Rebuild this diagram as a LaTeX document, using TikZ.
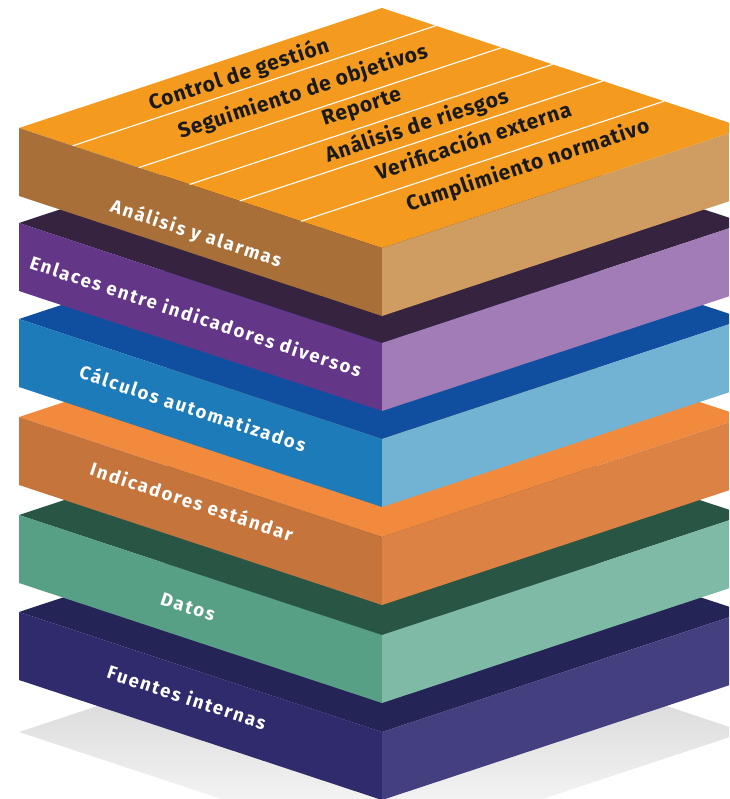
\documentclass[tikz,border=0pt]{standalone}
\usepackage{fontspec}
\setmainfont{Fira Sans}
\newfontfamily\sidefont[LetterSpace=10]{Fira Sans}
\newfontfamily\topfont[LetterSpace=4]{Fira Sans}
\definecolor{oTop}{HTML}{F39A1F}
\definecolor{oLeft}{HTML}{A86F38}
\definecolor{oRight}{HTML}{CF9C62}
\definecolor{pTop}{HTML}{35233F}
\definecolor{pLeft}{HTML}{633687}
\definecolor{pRight}{HTML}{A17CB6}
\definecolor{bTop}{HTML}{104FA0}
\definecolor{bLeft}{HTML}{1E7BBA}
\definecolor{bRight}{HTML}{72B2D3}
\definecolor{rTop}{HTML}{F28A3D}
\definecolor{rLeft}{HTML}{C5743B}
\definecolor{rRight}{HTML}{DB8244}
\definecolor{gTop}{HTML}{295545}
\definecolor{gLeft}{HTML}{57A086}
\definecolor{gRight}{HTML}{7FBAA6}
\definecolor{nTop}{HTML}{242457}
\definecolor{nLeft}{HTML}{2F2B6C}
\definecolor{nRight}{HTML}{443F7F}
\definecolor{topInk}{HTML}{1A1A1A}
\newcommand{\stacklayer}[4]{%
  \fill[#2] (19,#1) -- (382,#1-120) -- (745,#1) -- (382,#1+120) -- cycle;
  \fill[#3] (19,#1) -- (382,#1+120) -- (382,#1+188) -- (19,#1+68) -- cycle;
  \fill[#4] (382,#1+120) -- (745,#1) -- (745,#1+68) -- (382,#1+188) -- cycle;
}
\begin{document}
\begin{tikzpicture}[x=1pt,y=-1pt,
  sidelabel/.style={text=white,font=\sidefont\bfseries\fontsize{18.5}{18.5}\selectfont,rotate=-18.3,anchor=center,inner sep=0pt},
  toplabel/.style={text=topInk,font=\topfont\bfseries\fontsize{21}{21}\selectfont,rotate=18.3,anchor=center,inner sep=0pt},
  stripe/.style={draw=white,line width=1.1pt}]
\useasboundingbox (0,0) rectangle (729,799);
\begin{scope}
\clip (0,0) rectangle (729,799);
\shade[top color=black!22,bottom color=white] (19,732) -- (382,612) -- (745,732) -- (382,852) -- cycle;
\stacklayer{612}{nTop}{nLeft}{nRight}
\stacklayer{515}{gTop}{gLeft}{gRight}
\stacklayer{417}{rTop}{rLeft}{rRight}
\stacklayer{319}{bTop}{bLeft}{bRight}
\stacklayer{223}{pTop}{pLeft}{pRight}
\stacklayer{128}{oTop}{oLeft}{oRight}
\foreach \t in {0.148,0.330,0.470,0.608,0.777}{
  \draw[stripe] (19+363*\t,128+120*\t) -- (382+363*\t,8+120*\t);
}
\end{scope}
\node[toplabel] (t1) at (239,75) {Control de gestión};
\node[toplabel] (t2) at (303,92) {Seguimiento de objetivos};
\node[toplabel] (t3) at (362,108) {Reporte};
\node[toplabel] (t4) at (417,126) {Análisis de riesgos};
\node[toplabel] (t5) at (473,140) {Verificación externa};
\node[toplabel] (t6) at (528,166) {Cumplimiento normativo};
\node[sidelabel] (s1) at (196,234) {Análisis y alarmas};
\node[sidelabel] (s2) at (196,316) {Enlaces entre indicadores diversos};
\node[sidelabel] (s3) at (193,408) {Cálculos automatizados};
\node[sidelabel] (s4) at (192,501) {Indicadores estándar};
\node[sidelabel] (s5) at (188,607) {Datos};
\node[sidelabel] (s6) at (187,697) {Fuentes internas};
\end{tikzpicture}
\end{document}
